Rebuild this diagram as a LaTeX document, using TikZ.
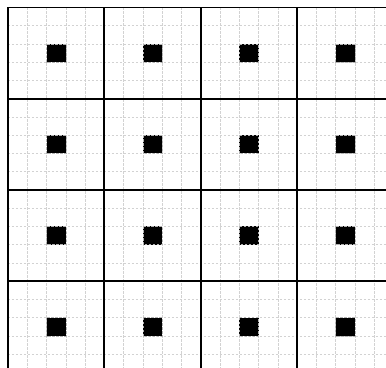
\documentclass[tikz,border=0pt]{standalone}
\usepackage{tikz}

\tikzset{
  minorgrid/.style={gray!35, dash pattern=on 2.5pt off 1.5pt, line width=0.5pt},
  majorgrid/.style={black, line width=1.7pt},
  pixel/.style={fill=black, draw=gray!60, dash pattern=on 2.5pt off 1.5pt, line width=0.5pt}
}

\begin{document}
\begin{tikzpicture}[x=19.27pt, y=-18.25pt]
  % page frame
  \useasboundingbox (-0.415,-0.411) rectangle (19.616,19.70);
  \clip (-0.415,-0.411) rectangle (19.616,19.70);

  % fine grid
  \foreach \k in {1,...,20} {
    \draw[minorgrid] (\k,0) -- (\k,20);
    \draw[minorgrid] (0,\k) -- (20,\k);
  }

  % filled cells
  \foreach \i in {0,...,3} {
    \foreach \j in {0,...,3} {
      \filldraw[pixel] (5*\i+2,5*\j+2) rectangle (5*\i+3,5*\j+3);
    }
  }

  % cell borders
  \foreach \k in {0,5,...,20} {
    \draw[majorgrid] (\k,0) -- (\k,20);
    \draw[majorgrid] (0,\k) -- (20,\k);
  }
\end{tikzpicture}
\end{document}
